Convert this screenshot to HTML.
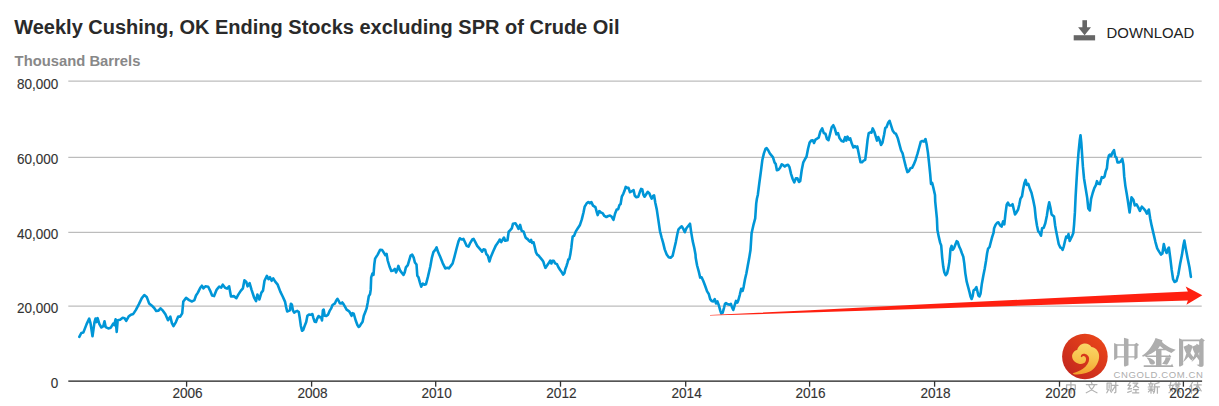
<!DOCTYPE html>
<html><head><meta charset="utf-8"><title>Weekly Cushing, OK Ending Stocks excluding SPR of Crude Oil</title>
<style>
html,body{margin:0;padding:0;background:#fff;}
body{width:1219px;height:406px;overflow:hidden;position:relative;font-family:"Liberation Sans",sans-serif;}
svg{position:absolute;left:0;top:0;display:block;}
text{font-family:"Liberation Sans",sans-serif;}
h1,.sub,.dl,.yl,.xl,.wmurl{position:absolute;margin:0;padding:0;white-space:nowrap;line-height:0;}
h1{left:14.2px;top:26.57px;font-size:20px;font-weight:bold;color:#2a2a2a;}
.sub{left:14.6px;top:60.87px;font-size:14.8px;font-weight:bold;color:#888;}
.dl{left:1106.6px;top:32.64px;font-size:14.9px;color:#222;}
.yl{right:1160.7px;font-size:13.5px;color:#333;-webkit-text-stroke:0.12px #333;transform:scale(1,1.08);transform-origin:0 0;}
.xl{width:60px;text-align:center;top:393.7px;font-size:13.6px;color:#333;-webkit-text-stroke:0.12px #333;transform:scale(1,1.1);transform-origin:0 0;}
.wmurl{left:1113.6px;top:374.51px;font-size:9.5px;color:#adadad;letter-spacing:0.62px;}
.bl{display:inline-block;height:0;vertical-align:baseline;}
</style></head><body>
<svg width="1219" height="406" viewBox="0 0 1219 406">
<defs>
<linearGradient id="gr" x1="0.85" y1="0.1" x2="0.15" y2="0.9">
<stop offset="0" stop-color="#e9451a"/><stop offset="1" stop-color="#c4271d"/>
</linearGradient>
<linearGradient id="gg" x1="0.5" y1="0" x2="0.4" y2="1">
<stop offset="0" stop-color="#fad768"/><stop offset="0.55" stop-color="#f7c04a"/><stop offset="1" stop-color="#f29f2c"/>
</linearGradient>
</defs>
<rect width="1219" height="406" fill="#fff"/>
<!-- title -->
<!-- download -->
<g fill="#666">
<rect x="1073.7" y="35.2" width="21.4" height="5.2"/>
<rect x="1082.4" y="20.2" width="4.6" height="8"/>
<path d="M1078.1 27.3 L1091 27.3 L1084.6 35.2 Z"/>
</g>
<!-- gridlines -->
<g>
<rect x="68.3" y="80" width="1133.4" height="1" fill="#dedede"/><rect x="68.3" y="81" width="1133.4" height="1" fill="#cdcdcd"/>
<rect x="68.3" y="156" width="1133.4" height="1" fill="#f0f0f0"/><rect x="68.3" y="157" width="1133.4" height="1" fill="#bcbcbc"/>
<rect x="68.3" y="231" width="1133.4" height="1" fill="#f0f0f0"/><rect x="68.3" y="232" width="1133.4" height="1" fill="#bcbcbc"/>
<rect x="68.3" y="305" width="1133.4" height="1" fill="#dedede"/><rect x="68.3" y="306" width="1133.4" height="1" fill="#cdcdcd"/>
</g>
<!-- watermark -->
<g id="wm">
<circle cx="1084.9" cy="356.45" r="22.8" fill="url(#gr)"/>
<g transform="translate(1066,338) scale(0.09852)">
<path fill="url(#gg)" d="M185,55 C215,52 245,65 258,92 C295,95 328,125 335,170 C342,220 318,275 275,318 C235,352 170,372 100,370 C85,370 72,365 68,357 C100,347 140,332 172,311 C208,286 234,250 235,212 C235,182 207,159 180,160 C163,161 151,173 150,188 C150,197 160,199 164,191 C168,182 182,180 192,189 C205,199 208,222 197,241 C187,259 160,267 130,261 C95,253 65,225 62,190 C60,160 82,130 115,120 C118,90 150,58 185,55 Z"/>
</g>
<!-- big cjk: zhong -->
<g fill="#adadad">
<g transform="translate(1108,332) scale(0.09852)">
<path d="M162,58 L208,70 L208,338 L170,353 L162,340 Z M62,112 L95,126 L95,264 L62,286 Z M90,125 H272 V140 H90 Z M268,125 L290,108 L316,132 L300,142 L300,262 L268,284 Z M95,245 H268 V260 H95 Z"/>
</g>
<g transform="translate(1138,332) scale(0.09862)">
<!-- jin -->
<path d="M178,60 L248,84 C234,148 178,220 50,250 L40,241 C100,200 152,135 178,60 Z M230,86 C264,128 322,163 382,180 L338,212 C288,194 236,162 203,122 Z M130,171 H290 V186 H130 Z M75,239 H312 L322,229 L338,254 H75 Z M183,180 H238 V340 H183 Z M86,259 C135,262 172,288 172,315 C162,336 130,334 118,318 C114,298 103,278 86,259 Z M332,255 C326,286 310,310 294,331 L244,323 C264,303 276,285 280,257 Z M58,336 H335 L346,323 L360,354 H58 Z"/>
<!-- wang -->
<path d="M416,64 L458,80 V335 L424,353 L416,345 Z M450,77 H630 V94 H450 Z M620,80 L645,61 L678,86 L665,96 V335 C665,351 650,356 625,353 L594,331 L620,329 Z M506,120 L552,140 C542,205 512,268 458,304 C485,250 502,190 506,120 Z M462,150 L502,133 C514,185 538,235 566,257 L542,288 C508,256 478,205 462,150 Z M592,120 L636,140 C627,205 597,268 543,304 C570,250 587,190 592,120 Z M548,150 L588,133 C598,185 612,225 622,245 L622,292 C594,256 564,205 548,150 Z"/>
</g>
</g>
<g fill="none" stroke="#b2b2b2" stroke-width="1.3" stroke-linecap="round" stroke-linejoin="round">
<path transform="translate(1065.1,382.2) scale(0.97,0.92)" d="M1.5,3 H10.5 V8 H1.5 Z M6,0 V12"/><path transform="translate(1085.8,382.2) scale(0.97,0.92)" d="M5.8,0 L6.4,1.8 M0.5,2.6 H11.5 M9,3 C8,7 4,10 0.5,11.5 M3,3 C4,7 8,10 11.5,11.5"/><path transform="translate(1106.3,382.2) scale(0.97,0.92)" d="M0.8,8 V1 H5 V8 M2.9,2.5 V6.5 M2.4,8 L0.5,11.5 M3.8,8.5 L5.2,11 M6,3.5 H12 M9.8,0 V11 L8.5,11.6 M9.5,4 L6,9.5"/><path transform="translate(1127.2,382.2) scale(0.97,0.92)" d="M3,0 L0.8,3.5 L3.5,3.5 L0.8,7.5 L4.5,7 M0.5,11 L4.5,9.5 M6,1 H11 L6.5,6 M8,3 L11.8,6 M6.5,8 H11.5 M9,8 V11.5 M5.5,11.5 H12"/><path transform="translate(1147.9,382.2) scale(0.97,0.92)" d="M3,0 V1.2 M0.8,1.8 H5.5 M1.8,3 L2.3,4.5 M4.5,3 L4,4.5 M0.3,5.2 H6 M0.5,7.5 H5.8 M3.2,5.2 V12 M3,8 L0.5,10.5 M3.5,8 L5.5,10 M11.5,0.5 L7,2 V7 C7,9.5 6.5,11 5.8,12 M7,5 H12 M9.8,5 V12"/><path transform="translate(1168.7,382.2) scale(0.97,0.92)" d="M2.2,0 L1,6 L4,10 M4.5,3 C4,7 2.5,10 0.3,11.5 M0.3,3.5 H5.2 M5.8,2 H12 M7.5,0 V5 H10.5 V0 M7.5,3.5 H10.5 M5.5,7 H12 M9,5.5 V12 M8.8,7.5 L5.8,11 M9.2,7.5 L12,11"/><path transform="translate(1189.6,382.2) scale(0.97,0.92)" d="M3,0 L0.3,5 M2,3.5 V12 M4.5,3 H12 M8.2,0 V12 M8,3.5 L4.5,9.5 M8.4,3.5 L12,9.5 M6.3,9 H10.2"/>
</g>
</g>
<!-- axis -->
<rect x="68.3" y="380" width="1133.8" height="1" fill="#8a8a8a"/><rect x="68.3" y="381" width="1133.8" height="1" fill="#555"/>
<g fill="#333"><rect x="185.95" y="381" width="1.3" height="5.7"/><rect x="310.95" y="381" width="1.3" height="5.7"/><rect x="435.05" y="381" width="1.3" height="5.7"/><rect x="559.85" y="381" width="1.3" height="5.7"/><rect x="685.05" y="381" width="1.3" height="5.7"/><rect x="808.95" y="381" width="1.3" height="5.7"/><rect x="933.95" y="381" width="1.3" height="5.7"/><rect x="1058.85" y="381" width="1.3" height="5.7"/><rect x="1182.75" y="381" width="1.3" height="5.7"/></g>
<!-- data line -->
<polyline fill="none" stroke="#0096d7" stroke-width="2.6" stroke-linejoin="round" stroke-linecap="round" points="79.3,336.9 81.3,333.0 83.3,332.6 86.6,324.1 89.2,318.6 90.5,323.1 92.5,336.3 94.5,322.1 95.5,318.6 96.5,322.1 97.6,318.2 99.4,324.1 101.4,327.5 103.3,326.1 104.5,321.2 105.7,327.1 108.3,328.4 110.8,327.7 113.2,323.7 114.2,325.1 115.6,319.2 116.7,332.0 117.7,320.2 120.1,319.8 122.7,317.8 124.6,318.2 126.2,320.8 128.6,316.6 130.9,314.7 133.3,313.9 135.9,309.9 138.8,304.4 141.8,298.1 144.3,295.0 146.7,296.9 149.1,303.4 151.6,305.4 154.2,308.0 156.2,310.9 158.5,310.7 160.5,308.3 162.9,310.7 165.4,314.3 168.0,320.2 170.3,316.6 171.9,323.1 173.5,326.1 175.9,322.1 178.2,316.6 180.2,316.6 182.2,313.3 183.3,301.5 186.1,297.9 189.1,300.1 192.0,301.5 194.4,300.1 196.0,295.5 197.9,292.6 200.3,287.7 201.9,285.7 203.4,288.3 205.4,286.3 208.2,286.7 210.1,290.6 212.1,295.5 214.1,296.1 216.7,289.6 219.2,286.7 221.2,287.7 222.8,284.7 225.1,287.7 227.1,288.6 229.1,286.3 231.0,296.5 233.8,296.1 236.4,298.1 238.3,294.6 240.9,290.6 242.9,288.3 244.4,280.4 246.2,281.7 247.6,286.3 249.6,283.1 251.5,289.6 254.1,297.5 256.1,301.1 257.4,294.6 259.4,299.5 261.4,292.6 263.0,290.6 264.5,280.8 266.9,275.8 268.5,279.2 270.0,277.2 271.6,280.8 273.2,278.4 275.2,281.7 277.7,284.7 280.3,291.6 282.7,296.5 285.0,301.6 286.0,306.6 287.2,311.5 288.7,310.9 289.9,310.3 290.9,303.7 291.9,304.7 292.9,310.3 294.2,312.7 295.8,311.5 297.3,310.9 298.8,312.1 299.8,318.3 300.8,325.7 302.0,330.8 303.2,330.0 304.5,326.3 306.2,322.0 307.4,315.8 309.0,314.6 310.9,314.8 312.4,314.0 313.3,317.6 314.6,321.7 316.0,322.0 317.3,318.3 318.5,316.0 319.7,317.3 321.0,317.0 322.0,320.5 322.9,310.3 323.7,309.6 324.7,315.8 326.3,316.0 328.1,314.6 329.6,310.9 331.2,308.4 332.4,305.3 333.7,304.1 334.9,303.5 336.1,300.8 337.5,298.8 338.7,300.8 339.8,303.2 341.1,303.5 342.3,302.5 343.5,304.1 345.1,306.9 346.6,309.6 348.1,310.6 349.3,311.5 350.5,313.6 351.5,315.8 352.5,313.1 353.7,313.6 354.7,317.0 356.0,321.3 357.4,325.0 358.7,326.9 359.9,325.9 361.4,323.4 362.6,321.7 363.8,315.8 365.3,312.1 366.6,308.4 367.8,302.2 368.8,296.1 370.0,294.2 370.7,289.9 371.2,277.3 372.4,273.7 373.5,274.9 374.3,264.5 375.1,258.6 377.7,254.6 380.2,249.7 382.2,250.1 384.2,253.3 385.4,255.2 386.6,254.0 387.7,260.5 389.5,266.5 391.3,271.0 393.3,270.4 394.8,269.0 396.0,272.4 397.4,269.4 398.4,265.9 400.0,270.4 401.5,272.4 403.5,274.9 404.7,272.4 405.9,267.4 407.8,265.1 409.4,259.6 410.6,255.6 412.2,254.6 413.7,257.6 414.9,262.5 416.5,264.5 417.3,275.7 418.5,277.3 420.0,282.8 421.2,286.7 422.8,283.6 424.4,284.8 426.0,284.2 427.9,276.9 430.3,266.5 431.9,257.6 433.4,252.1 435.4,249.7 436.6,247.3 437.8,251.3 440.1,256.6 442.7,263.1 445.3,268.4 447.2,267.8 448.8,268.4 450.8,265.9 452.6,263.5 454.5,256.6 456.5,248.7 458.5,241.4 459.9,238.3 461.8,239.5 463.4,238.9 465.0,242.2 466.6,245.8 468.5,246.7 470.3,242.8 472.3,239.5 473.6,238.9 475.2,241.8 477.2,245.8 479.6,248.7 482.1,251.7 483.5,249.3 485.1,249.7 486.3,254.0 487.8,255.6 489.4,261.5 490.6,257.6 493.0,251.7 495.9,245.4 498.5,241.8 499.7,239.5 501.2,242.2 502.8,239.5 504.0,237.5 505.2,240.8 507.5,240.2 508.7,231.6 510.2,230.2 511.8,228.3 513.0,223.7 515.4,223.3 516.9,225.7 518.5,228.9 520.1,224.9 521.7,230.8 523.6,231.6 525.6,237.5 527.2,239.1 527.6,238.9 528.9,240.8 530.1,241.7 531.1,239.9 532.1,242.9 533.6,242.3 534.8,247.2 536.0,252.4 537.2,254.6 538.7,255.6 540.3,257.7 541.9,259.6 543.4,261.8 544.4,265.1 545.4,267.9 546.9,265.7 548.6,263.3 550.2,260.6 551.4,263.5 552.3,260.8 553.8,260.8 555.1,263.3 557.0,264.2 558.4,267.2 560.0,269.7 561.6,271.9 563.1,274.6 564.4,273.1 565.3,269.2 566.6,265.7 567.6,262.3 568.3,259.6 569.3,259.3 570.3,254.6 571.3,247.9 572.0,241.7 572.7,236.4 574.0,235.9 575.2,233.1 575.7,231.6 577.8,228.3 579.8,225.3 581.8,219.4 583.5,212.5 584.7,206.6 586.7,203.3 588.3,202.1 589.9,203.3 591.4,202.1 593.0,205.6 595.4,207.2 596.6,211.5 597.7,215.1 599.3,211.1 600.9,212.5 602.5,213.1 604.4,215.9 606.4,217.0 608.4,215.9 610.0,215.5 611.5,216.5 613.5,219.8 615.1,213.5 616.7,209.6 618.2,209.2 619.4,205.2 620.6,204.0 621.8,196.7 623.3,193.8 624.5,190.8 625.7,186.9 627.1,187.9 628.5,187.9 630.0,192.2 631.6,191.4 633.6,190.2 634.8,195.8 636.4,197.3 638.3,196.7 639.9,191.8 641.1,188.9 642.3,189.5 643.4,194.8 644.6,196.7 646.2,194.2 647.8,191.8 649.4,193.4 650.5,196.2 651.7,198.7 652.9,196.2 654.1,195.4 655.3,202.7 656.8,209.6 658.4,220.4 660.0,231.2 661.6,237.5 663.2,243.1 664.7,249.4 666.7,254.5 668.7,257.2 670.6,257.8 672.6,255.9 674.2,249.0 675.8,242.1 677.3,234.2 678.5,229.3 680.1,227.7 681.7,226.3 683.3,228.9 684.8,232.2 686.4,228.3 688.0,226.3 690.0,223.7 691.1,231.6 692.7,241.1 694.3,248.0 695.5,254.5 695.7,257.8 697.1,265.5 698.8,271.6 700.2,277.6 701.6,277.2 703.3,281.0 705.3,286.2 707.1,291.4 708.8,294.0 710.2,299.1 711.6,300.9 713.3,301.4 714.7,299.1 716.0,303.4 717.4,301.4 718.8,305.2 720.2,310.3 721.2,313.4 722.6,312.9 724.0,307.8 725.0,303.8 726.0,303.1 727.8,304.3 729.5,304.8 730.9,303.8 731.9,306.9 733.3,310.0 734.7,305.2 736.0,300.9 737.4,302.6 738.4,300.0 739.8,294.8 741.2,288.8 742.6,291.0 743.6,287.1 745.0,279.3 746.4,273.3 747.8,265.5 749.1,258.6 750.5,250.0 751.6,233.2 753.6,224.3 755.2,218.4 756.2,203.6 756.9,198.7 757.8,195.0 759.2,184.0 760.8,172.1 762.3,160.3 763.9,153.4 765.5,148.9 766.7,148.1 768.3,150.5 769.8,153.4 771.4,155.4 773.0,157.4 774.6,162.7 775.7,163.9 776.9,170.2 778.5,169.8 780.1,167.8 781.7,164.3 783.2,165.2 784.8,166.6 786.4,165.2 788.0,164.7 789.5,167.2 791.1,174.1 792.7,179.0 794.3,182.4 795.8,178.4 797.4,178.4 799.0,182.0 800.2,181.0 801.7,170.2 803.3,162.3 804.9,159.3 806.5,156.8 808.1,148.5 809.6,142.6 811.2,140.6 812.8,140.2 814.0,143.0 815.5,139.6 817.1,138.6 818.7,137.7 820.3,131.7 822.2,128.4 823.8,133.1 825.4,133.7 827.0,139.0 828.5,140.2 830.1,133.7 831.7,127.2 833.3,125.2 834.9,128.8 836.4,134.3 838.0,133.1 839.6,138.3 841.6,141.0 843.5,141.6 845.1,137.1 846.3,140.6 847.5,136.7 849.0,139.6 850.2,138.3 851.8,143.6 853.4,147.5 855.0,146.1 856.5,147.5 857.3,146.5 858.9,154.4 860.5,162.3 862.0,162.3 863.6,160.7 865.2,159.9 866.4,150.5 867.6,139.6 868.7,133.1 870.3,132.3 871.5,132.7 872.7,128.4 874.3,131.7 875.8,136.7 877.0,140.6 878.2,137.1 879.4,139.6 881.0,145.0 882.5,142.6 884.1,134.7 885.3,127.8 886.5,127.2 888.1,122.9 889.6,120.9 891.2,125.8 892.8,130.8 894.4,133.1 895.9,133.7 897.9,138.6 899.5,144.6 901.1,150.5 902.6,153.4 904.2,160.3 905.8,166.6 907.4,172.1 908.9,171.2 910.5,168.2 912.1,167.8 913.7,164.7 915.6,159.9 917.6,153.4 919.2,147.5 920.8,141.6 922.3,141.0 923.9,141.6 925.5,139.0 926.7,144.6 927.9,152.4 929.0,162.3 930.2,174.1 931.0,184.0 932.2,183.0 933.4,187.9 935.0,195.0 935.2,201.3 936.9,218.3 937.4,230.0 938.8,236.9 940.2,242.9 941.2,245.5 942.2,257.6 943.3,267.1 944.3,272.2 945.7,275.2 947.1,273.4 948.4,267.9 949.5,261.0 950.5,249.0 951.6,245.9 952.6,249.8 954.0,248.1 955.3,244.7 956.7,241.2 957.8,242.1 959.1,246.4 960.5,249.3 961.9,253.3 963.3,256.7 964.3,263.6 965.3,273.1 966.7,281.7 968.1,286.9 969.5,292.1 970.5,296.4 971.6,299.0 972.6,296.4 973.6,290.3 975.0,289.5 976.4,287.2 977.4,291.2 978.4,295.5 979.5,296.4 980.5,293.8 981.9,283.4 983.3,275.7 984.7,268.8 986.0,261.0 987.1,253.3 988.1,248.6 989.5,247.2 990.9,241.7 992.2,236.9 993.6,232.6 994.1,228.2 995.6,224.7 997.2,222.7 998.4,222.3 1000.0,225.2 1001.6,226.6 1003.1,221.3 1004.3,224.3 1005.5,213.4 1006.7,204.6 1007.9,202.6 1009.4,205.5 1011.0,205.5 1012.6,204.2 1013.8,209.5 1015.0,214.4 1016.5,212.4 1018.1,209.5 1019.3,204.6 1020.5,198.6 1022.0,196.3 1023.2,188.8 1024.4,182.9 1025.6,179.9 1026.8,184.9 1028.3,183.9 1029.9,188.8 1031.5,192.7 1033.1,199.6 1034.7,207.5 1035.8,218.3 1037.0,225.8 1038.2,231.2 1039.8,233.1 1041.0,235.7 1042.1,228.2 1043.7,227.8 1045.3,223.3 1046.9,215.4 1048.1,207.5 1049.2,202.2 1050.4,207.5 1051.6,214.4 1052.8,215.4 1054.0,216.4 1055.1,225.2 1056.3,232.1 1057.5,238.1 1058.7,244.0 1060.3,247.5 1061.5,247.9 1062.6,249.9 1063.8,246.3 1065.0,241.0 1066.2,236.5 1067.4,237.7 1068.5,234.1 1069.7,241.0 1070.9,238.4 1072.1,236.1 1073.3,233.1 1074.1,224.3 1074.9,212.4 1075.6,196.7 1076.4,182.9 1077.3,168.3 1078.5,152.6 1079.7,140.8 1080.5,135.2 1081.3,142.7 1082.1,154.6 1082.9,166.4 1084.0,178.2 1085.6,188.1 1087.2,197.9 1088.3,208.5 1089.8,210.5 1091.1,198.9 1092.7,193.0 1094.3,188.1 1095.9,185.1 1097.0,181.2 1098.2,183.7 1099.8,184.1 1101.0,180.2 1101.8,177.2 1103.3,177.8 1104.5,176.6 1105.7,171.3 1106.9,168.3 1107.7,160.5 1108.9,155.5 1110.0,154.6 1111.2,156.1 1112.4,152.6 1114.0,150.2 1115.2,156.5 1116.4,157.5 1117.5,162.4 1119.1,162.4 1120.7,161.5 1122.3,158.9 1123.4,164.4 1124.2,176.2 1125.4,186.1 1126.6,193.0 1127.7,199.7 1129.6,212.5 1131.5,197.3 1133.4,199.7 1134.8,205.5 1136.6,204.4 1138.5,207.9 1139.9,210.9 1141.8,206.7 1143.7,208.6 1145.5,210.9 1146.9,213.7 1148.8,209.5 1150.2,218.4 1151.6,225.4 1153.5,233.6 1155.4,241.8 1157.2,248.3 1159.1,251.6 1161.0,254.6 1162.4,253.5 1163.8,244.1 1165.2,250.0 1166.6,253.0 1168.0,248.8 1168.9,247.6 1170.3,258.2 1171.7,269.9 1173.1,279.2 1174.5,282.0 1176.4,281.1 1178.3,274.5 1180.1,264.0 1182.0,254.6 1183.4,245.3 1184.4,240.6 1185.8,248.8 1187.6,258.2 1189.5,267.5 1190.9,276.9"/>
<!-- red arrow -->
<path fill="#ff2010" d="M710 315 L810 310.2 L910 305.1 L1020 299.7 L1100 295.8 L1150 293.2 L1187.9 291.6 L1185.7 286.5 L1202.3 295.35 L1186.4 304.7 L1187.9 300.4 L710 315.6 Z"/>
</svg>
<h1>Weekly Cushing, OK Ending Stocks excluding SPR of Crude Oil</h1>
<div class="sub">Thousand Barrels</div>
<div class="dl">DOWNLOAD</div>
<span class="yl" style="top:84.75px">80,000</span>
<span class="yl" style="top:159.65px">60,000</span>
<span class="yl" style="top:234.65px">40,000</span>
<span class="yl" style="top:308.65px">20,000</span>
<span class="yl" style="top:383.85px">0</span>
<span class="xl" style="left:157.5px">2006</span><span class="xl" style="left:282.5px">2008</span><span class="xl" style="left:406.6px">2010</span><span class="xl" style="left:531.4px">2012</span><span class="xl" style="left:656.6px">2014</span><span class="xl" style="left:780.5px">2016</span><span class="xl" style="left:905.5px">2018</span><span class="xl" style="left:1030.4px">2020</span><span class="xl" style="left:1154.3px">2022</span>
<div class="wmurl">CNGOLD.COM.CN</div>
</body></html>
